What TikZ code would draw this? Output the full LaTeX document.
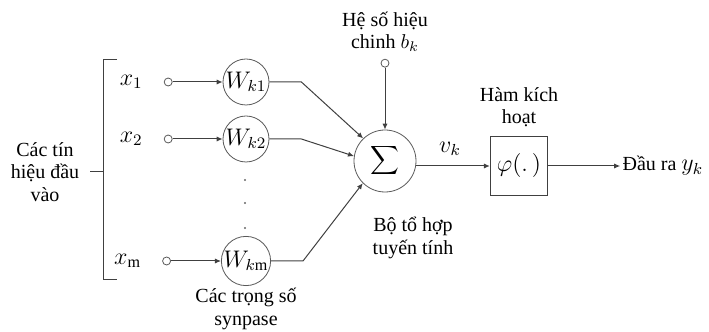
\documentclass[tikz,border=0pt]{standalone}
\usepackage{fontspec}
\setmainfont{Liberation Serif}
\usepackage{tikz}
\usetikzlibrary{arrows.meta,positioning}

\begin{document}
\begin{tikzpicture}[
  x=0.5pt, y=0.5pt,
  font=\rmfamily\fontsize{10}{11.3}\selectfont,
  mathbig/.style={font=\fontsize{11.5}{13}\selectfont},
  syn/.style={circle, draw=black!65, minimum size=23pt, inner sep=0pt, mathbig},
  port/.style={circle, draw=black!65, minimum size=4pt, inner sep=0pt},
  wire/.style={black!75, line width=0.5pt},
  arrow/.style={-{Latex[length=3pt,width=2.6pt]}, black!75, line width=0.5pt}
]
\useasboundingbox (0,0) rectangle (709,332);

\node[syn] (w1) at (246,250) {$W_{k1}$};
\node[syn] (w2) at (246,193) {$W_{k2}$};
\node[syn] (wm) at (246,71) {$W_{k\mathrm{m}}$};
\node[port, left=25pt of w1] (in1) {};
\node[port, left=25pt of w2] (in2) {};
\node[port, left=25pt of wm] (inm) {};
\node[left=7pt of in1, mathbig] (x1) {$x_1$};
\node[left=7pt of in2, mathbig] (x2) {$x_2$};
\node[left=7pt of inm, mathbig] (xm) {$x_{\mathrm{m}}$};
\node[below=-2.5pt of wm, align=center] (weights) {Các trọng số\\synpase};
\node[align=center] (inputs) at (45,160) {Các tín\\hiệu đầu\\vào};

\node[circle, draw=black!65, minimum size=31pt, inner sep=0pt] (sum) at (385,171)
  {\fontsize{15}{17}\selectfont$\displaystyle\sum$};
\node[port, above=31pt of sum] (bias) {};
\node[above=0pt of bias, align=center] (biastext) {Hệ số hiệu\\chinh $b_k$};
\node[align=center] (combiner) at (413,94) {Bộ tổ hợp\\tuyến tính};

\node[draw=black!75, minimum width=28.5pt, minimum height=29.5pt] (act) at (519,166)
  {\fontsize{12}{14}\selectfont$\varphi(.\,)$};
\node[above=1pt of act, align=center] (acttext) {Hàm kích\\hoạt};
\node[mathbig] (vk) at (450,183) {$v_k$};
\node[right=36pt of act, inner sep=1pt] (out) {Đầu ra {\fontsize{11.5}{13}\selectfont$y_k$}};

\draw[wire] (117,272) -- (103,272) -- (103,52) -- (117,52);
\draw[wire] (90,160) -- (103,160);
\foreach \y in {152,129,104}
  \fill[black!60] (245,\y) circle (0.6pt);

\draw[arrow] (in1) -- (w1);
\draw[arrow] (in2) -- (w2);
\draw[arrow] (inm) -- (wm);
\draw[arrow] (w1.east) -- ++(32,0) -- (sum.134);
\draw[arrow] (w2.east) -- ++(32,0) -- (sum.171);
\draw[arrow] (wm.east) -- ++(32,0) -- (sum.225);
\draw[arrow] (bias) -- (sum);
\draw[arrow] (sum.east |- act.west) -- (act.west);
\draw[arrow] (act) -- (out);

\end{tikzpicture}
\end{document}
